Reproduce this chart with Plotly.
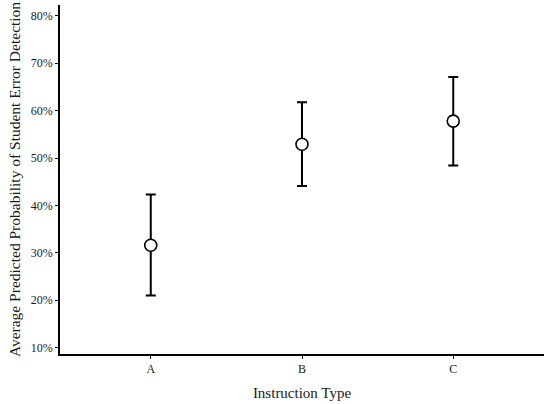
import plotly.graph_objects as go

# predicted probabilities and 95% interval bounds
instruction = ["A", "B", "C"]
mean_prob = [0.316, 0.529, 0.578]
upper = [0.423, 0.618, 0.671]
lower = [0.210, 0.441, 0.484]

err_plus = [u - m for u, m in zip(upper, mean_prob)]
err_minus = [m - l for m, l in zip(mean_prob, lower)]

serif = "Liberation Serif, Times New Roman, serif"

fig = go.Figure()
fig.add_trace(
    go.Scatter(
        x=instruction,
        y=mean_prob,
        mode="markers",
        marker=dict(size=12, color="white", line=dict(color="black", width=1.6)),
        error_y=dict(type="data", array=err_plus, arrayminus=err_minus,
                     color="black", thickness=2, width=5),
        showlegend=False,
    )
)

fig.update_layout(
    width=550, height=404,
    margin=dict(l=60, r=6, t=5, b=48),
    plot_bgcolor="white", paper_bgcolor="white",
    font=dict(family=serif, color="#1a1a1a"),
)
fig.update_xaxes(
    range=[-0.6, 2.6],
    showline=True, linecolor="black", linewidth=1.6,
    ticks="outside", ticklen=3, tickcolor="black", tickwidth=1,
    tickfont=dict(size=12),
    title=dict(text="Instruction Type", font=dict(size=15), standoff=12),
    showgrid=False, zeroline=False,
)
fig.update_yaxes(
    range=[0.0864, 0.823],
    tick0=0.1, dtick=0.1, tickformat=".0%",
    showline=True, linecolor="black", linewidth=1.6,
    ticks="outside", ticklen=3, tickcolor="black", tickwidth=1,
    tickfont=dict(size=12),
    title=dict(text="Average Predicted Probability of Student Error Detection",
               font=dict(size=15.5), standoff=6),
    showgrid=False, zeroline=False,
)

# drop the browser's default page margin so the figure fills the window
fig.write_html("out.html", config={"displayModeBar": False},
               post_script="document.body.style.margin='0';")
